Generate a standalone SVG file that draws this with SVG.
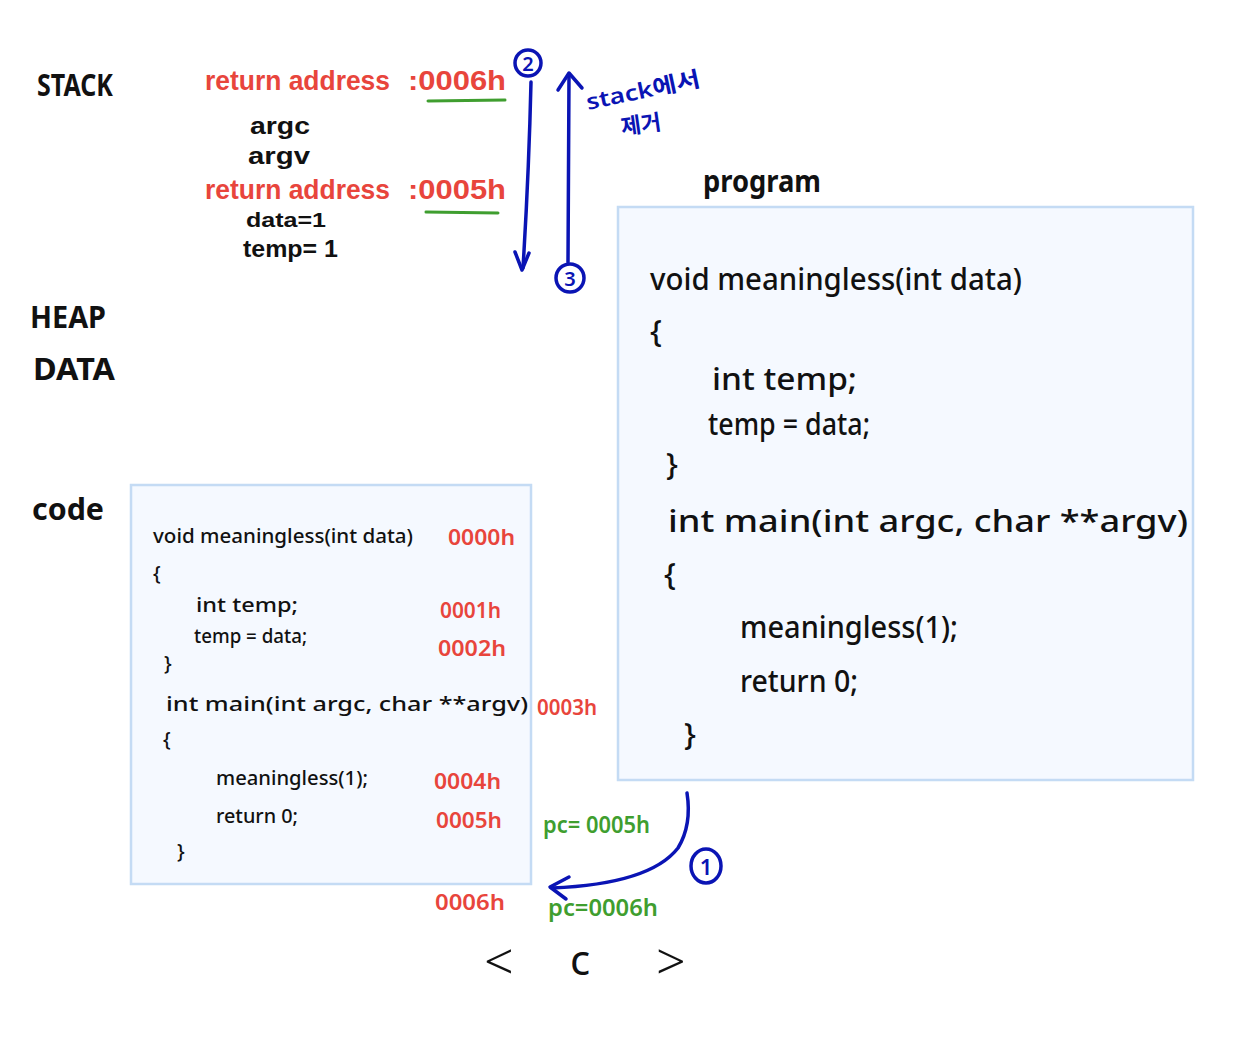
<svg xmlns="http://www.w3.org/2000/svg" width="1244" height="1041" viewBox="0 0 1244 1041">
<defs>
<style>
text{font-family:"Noto Sans","Liberation Sans",sans-serif;fill:#111;}
.lbl{font-size:30px;font-weight:700;}
.st{font-family:"Liberation Sans",sans-serif;font-weight:700;}
.red{fill:#e8453c;font-weight:600;}
.grn{fill:#3f9e2f;font-weight:600;}
.blu{fill:#0a14b4;font-family:"Noto Sans","Noto Sans CJK KR",sans-serif;font-weight:600;}
.big{font-size:31px;font-weight:500;}
.sm{font-size:20px;font-weight:500;}
.box{fill:#f5f9ff;stroke:#c4dbf4;stroke-width:2.5;}
.bl{fill:none;stroke:#0a14b4;stroke-width:3.5;stroke-linecap:round;stroke-linejoin:round;}
.gl{fill:none;stroke:#3f9e2f;stroke-width:3;stroke-linecap:round;}
.nav{fill:none;stroke:#111;stroke-width:3.5;stroke-linecap:round;stroke-linejoin:round;}
</style>
</defs>
<rect width="1244" height="1041" fill="#fff"/>

<g id="labels">
<text class="lbl" x="37" y="96" textLength="76" lengthAdjust="spacingAndGlyphs">STACK</text>
<text class="lbl" x="30" y="328" textLength="76" lengthAdjust="spacingAndGlyphs">HEAP</text>
<text class="lbl" x="33" y="380" textLength="82" lengthAdjust="spacingAndGlyphs">DATA</text>
<text class="lbl" x="32" y="520" textLength="72" lengthAdjust="spacingAndGlyphs">code</text>
<text class="lbl" x="703" y="192" textLength="118" lengthAdjust="spacingAndGlyphs" font-weight="500">program</text>
</g>

<g id="stack">
<text class="st red" x="205" y="90" font-size="28" textLength="185" lengthAdjust="spacingAndGlyphs">return address</text>
<text class="st red" x="408" y="90" font-size="28" textLength="98" lengthAdjust="spacingAndGlyphs">:0006h</text>
<line class="gl" x1="428" y1="101" x2="505" y2="100"/>
<text class="st" x="250" y="134" font-size="24" textLength="60" lengthAdjust="spacingAndGlyphs">argc</text>
<text class="st" x="248" y="164" font-size="24" textLength="62" lengthAdjust="spacingAndGlyphs">argv</text>
<text class="st red" x="205" y="199" font-size="27" textLength="185" lengthAdjust="spacingAndGlyphs">return address</text>
<text class="st red" x="408" y="199" font-size="27" textLength="98" lengthAdjust="spacingAndGlyphs">:0005h</text>
<line class="gl" x1="426" y1="212" x2="498" y2="213"/>
<text class="st" x="246" y="227" font-size="21" textLength="80" lengthAdjust="spacingAndGlyphs">data=1</text>
<text class="st" x="243" y="257" font-size="23" textLength="95" lengthAdjust="spacingAndGlyphs">temp= 1</text>
</g>

<g id="program">
<rect class="box" x="618" y="207" width="575" height="573"/>
<text class="big" x="650" y="290" textLength="372" lengthAdjust="spacingAndGlyphs">void meaningless(int data)</text>
<text class="big" x="650" y="342">{</text>
<text class="big" x="712" y="390" textLength="145" lengthAdjust="spacingAndGlyphs">int temp;</text>
<text class="big" x="708" y="435" textLength="162" lengthAdjust="spacingAndGlyphs">temp = data;</text>
<text class="big" x="666" y="475">}</text>
<text class="big" x="668" y="532" textLength="520" lengthAdjust="spacingAndGlyphs">int main(int argc, char **argv)</text>
<text class="big" x="664" y="585">{</text>
<text class="big" x="740" y="638" textLength="218" lengthAdjust="spacingAndGlyphs">meaningless(1);</text>
<text class="big" x="740" y="692" textLength="118" lengthAdjust="spacingAndGlyphs">return 0;</text>
<text class="big" x="684" y="745">}</text>
</g>

<g id="code">
<rect class="box" x="131" y="485" width="400" height="399"/>
<text class="sm" x="153" y="543" textLength="260" lengthAdjust="spacingAndGlyphs">void meaningless(int data)</text>
<text class="sm" x="153" y="580">{</text>
<text class="sm" x="196" y="612" textLength="102" lengthAdjust="spacingAndGlyphs">int temp;</text>
<text class="sm" x="194" y="643" textLength="113" lengthAdjust="spacingAndGlyphs">temp = data;</text>
<text class="sm" x="164" y="670">}</text>
<text class="sm" x="166" y="711" textLength="362" lengthAdjust="spacingAndGlyphs">int main(int argc, char **argv)</text>
<text class="sm" x="163" y="746">{</text>
<text class="sm" x="216" y="785" textLength="152" lengthAdjust="spacingAndGlyphs">meaningless(1);</text>
<text class="sm" x="216" y="823" textLength="82" lengthAdjust="spacingAndGlyphs">return 0;</text>
<text class="sm" x="177" y="858">}</text>
<text class="red" x="448" y="545" font-size="22" textLength="67" lengthAdjust="spacingAndGlyphs">0000h</text>
<text class="red" x="440" y="618" font-size="22" textLength="61" lengthAdjust="spacingAndGlyphs">0001h</text>
<text class="red" x="438" y="656" font-size="22" textLength="68" lengthAdjust="spacingAndGlyphs">0002h</text>
<text class="red" x="537" y="715" font-size="22" textLength="60" lengthAdjust="spacingAndGlyphs">0003h</text>
<text class="red" x="434" y="789" font-size="22" textLength="67" lengthAdjust="spacingAndGlyphs">0004h</text>
<text class="red" x="436" y="828" font-size="22" textLength="66" lengthAdjust="spacingAndGlyphs">0005h</text>
<text class="red" x="435" y="910" font-size="22" textLength="70" lengthAdjust="spacingAndGlyphs">0006h</text>
</g>

<g id="pc">
<text class="grn" x="543" y="833" font-size="24" textLength="107" lengthAdjust="spacingAndGlyphs">pc= 0005h</text>
<text class="grn" x="548" y="916" font-size="24" textLength="110" lengthAdjust="spacingAndGlyphs">pc=0006h</text>
</g>

<g id="connectors">
<path class="bl" d="M531 82 Q529 170 523 268"/>
<path class="bl" d="M515 252 L522 270 L529 253"/>
<path class="bl" d="M568 262 L569 75"/>
<path class="bl" d="M558 90 L569 73 L582 88"/>
<path class="bl" d="M687 793 Q692 825 678 848 Q650 884 552 888"/>
<path class="bl" d="M569 877 L550 887 L566 899"/>
</g>

<g id="markers">
<circle class="bl" cx="528" cy="63" r="13"/>
<text class="blu" x="528" y="71" font-size="20" text-anchor="middle">2</text>
<circle class="bl" cx="570" cy="278" r="14"/>
<text class="blu" x="570" y="286" font-size="20" text-anchor="middle">3</text>
<ellipse class="bl" cx="706" cy="866" rx="15" ry="17"/>
<text class="blu" x="706" y="875" font-size="22" text-anchor="middle">1</text>
<text class="blu" x="588" y="110" font-size="22" transform="rotate(-12 588 110)" textLength="116" lengthAdjust="spacingAndGlyphs">stack에서</text>
<text class="blu" x="622" y="135" font-size="22" transform="rotate(-8 622 135)">제거</text>
</g>

<g id="nav">
<text x="484" y="980" font-size="52" font-weight="300">&lt;</text>
<text x="570" y="975" font-size="42" font-weight="400">c</text>
<text x="656" y="980" font-size="52" font-weight="300">&gt;</text>
</g>
</svg>
